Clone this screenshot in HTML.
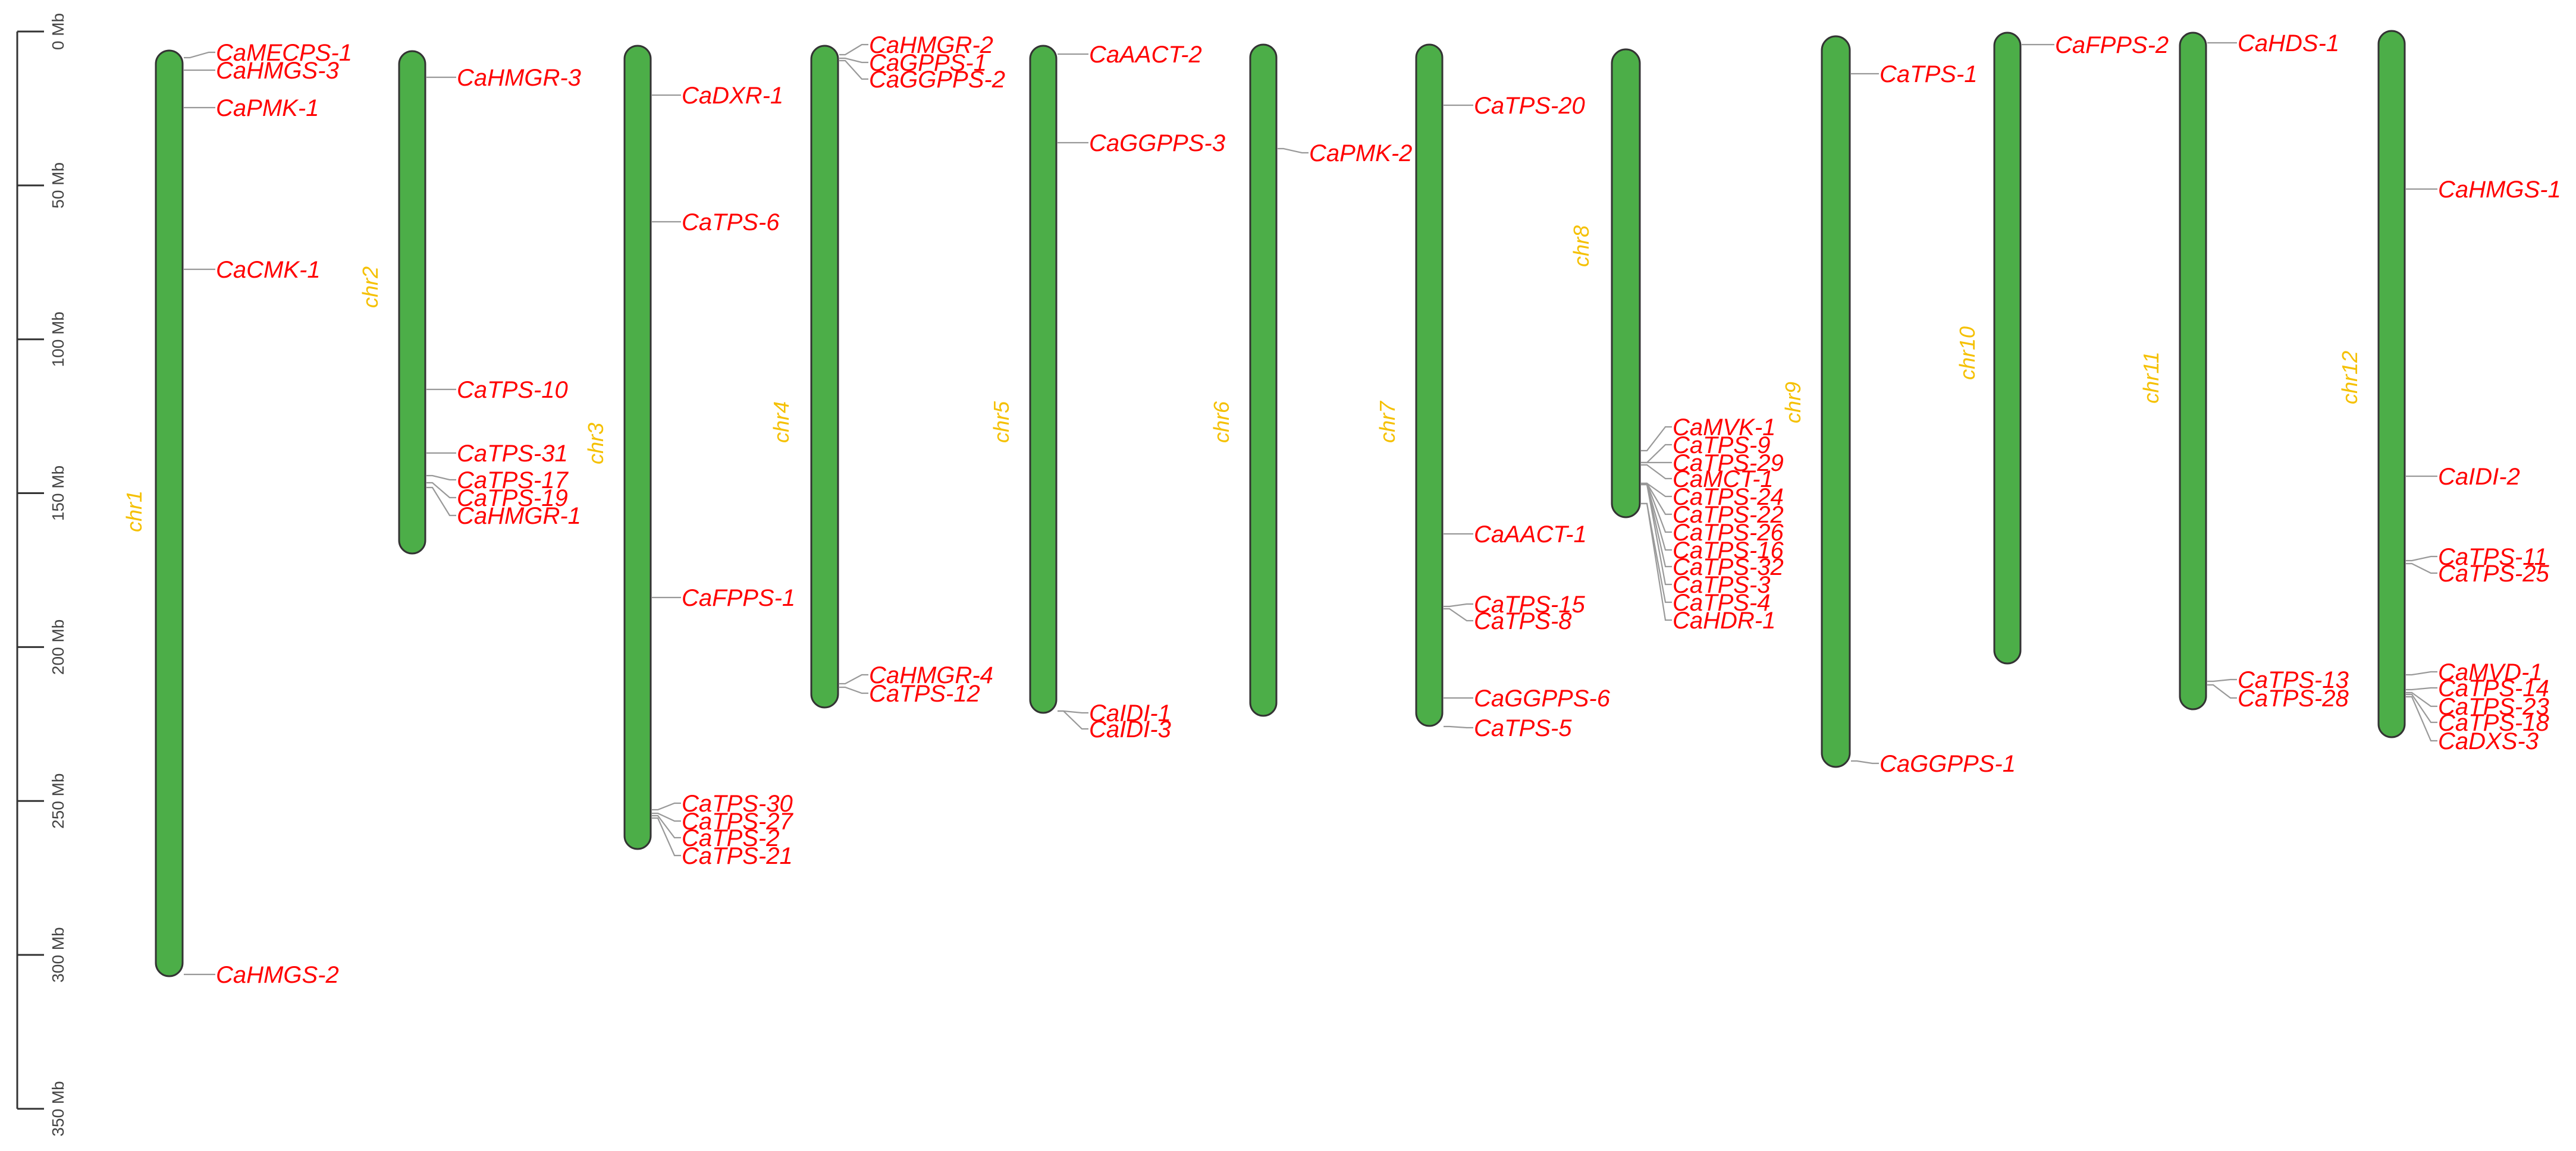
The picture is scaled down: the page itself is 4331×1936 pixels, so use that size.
<!DOCTYPE html>
<html><head><meta charset="utf-8"><style>
html,body{margin:0;padding:0;background:#fff;}
svg{display:block;}
.g{font-family:"Liberation Sans",sans-serif;font-style:italic;font-size:40px;fill:#ff0000;}
.c{font-family:"Liberation Sans",sans-serif;font-style:italic;font-size:36px;fill:#f5c000;}
.a{font-family:"Liberation Sans",sans-serif;font-size:28px;fill:#444;}
.ch{fill:#4cae48;stroke:#333;stroke-width:3;}
.l{fill:none;stroke:#999;stroke-width:2.2;}
</style></head><body>
<svg id="s" width="4331" height="1936" viewBox="0 0 4331 1936" xmlns="http://www.w3.org/2000/svg">
<g stroke="#333" stroke-width="3" fill="none">
<line x1="29" y1="53" x2="29" y2="1865"/>
</g>
<g id="axis"></g>
<g id="main"></g>
</svg>
<script>
var NS="http://www.w3.org/2000/svg";
function el(t,a,p,txt){var e=document.createElementNS(NS,t);for(var k in a)e.setAttribute(k,a[k]);if(txt!==undefined)e.textContent=txt;(p||document.getElementById('main')).appendChild(e);return e;}
var ax=document.getElementById('axis');
for(var i=0;i<=7;i++){var y=53+i*50*5.177;
el('line',{x1:29,y1:y,x2:74,y2:y,stroke:'#333','stroke-width':3},ax);
el('text',{class:'a',x:0,y:0,'text-anchor':'middle',transform:'translate(107,'+y+') rotate(-90)'},ax,(i*50)+' Mb');}
var C=[
['chr1',262,307,85,1642,363,238,860,[['CaMECPS-1',88,97],['CaHMGS-3',118,118],['CaPMK-1',181,181],['CaCMK-1',453,453],['CaHMGS-2',1639,1639]]],
['chr2',671,715,86,931,768,635,483,[['CaHMGR-3',130,130],['CaTPS-10',655,655],['CaTPS-31',762,762],['CaTPS-17',807,800],['CaTPS-19',837,812],['CaHMGR-1',867,820]]],
['chr3',1050,1094,77,1428,1146,1014,746,[['CaDXR-1',160,160],['CaTPS-6',373,373],['CaFPPS-1',1005,1005],['CaTPS-30',1351,1362],['CaTPS-27',1381,1368],['CaTPS-2',1409,1372],['CaTPS-21',1439,1376]]],
['chr4',1364,1409,77,1190,1461,1326,710,[['CaHMGR-2',75,92],['CaGPPS-1',105,98],['CaGGPPS-2',133,102],['CaHMGR-4',1135,1150],['CaTPS-12',1166,1156]]],
['chr5',1732,1776,77,1199,1831,1696,710,[['CaAACT-2',91,91],['CaGGPPS-3',240,240],['CaIDI-1',1199,1196],['CaIDI-3',1226,1196]]],
['chr6',2102,2146,75,1204,2201,2066,710,[['CaPMK-2',257,250]]],
['chr7',2381,2425,75,1221,2478,2345,710,[['CaTPS-20',177,177],['CaAACT-1',898,898],['CaTPS-15',1016,1020],['CaTPS-8',1044,1024],['CaGGPPS-6',1174,1174],['CaTPS-5',1224,1222]]],
['chr8',2710,2757,83,870,2812,2671,414,[['CaMVK-1',718,758],['CaTPS-9',748,778],['CaTPS-29',778,778],['CaMCT-1',805,782],['CaTPS-24',835,813],['CaTPS-22',865,813],['CaTPS-26',895,813],['CaTPS-16',925,815],['CaTPS-32',953,815],['CaTPS-3',983,815],['CaTPS-4',1013,847],['CaHDR-1',1043,847]]],
['chr9',3063,3110,61,1290,3160,3027,677,[['CaTPS-1',124,124],['CaGGPPS-1',1284,1280]]],
['chr10',3353,3397,55,1116,3455,3320,594,[['CaFPPS-2',75,75]]],
['chr11',3665,3709,55,1193,3762,3629,635,[['CaHDS-1',72,72],['CaTPS-13',1143,1146],['CaTPS-28',1174,1152]]],
['chr12',3999,4043,52,1240,4099,3963,635,[['CaHMGS-1',318,318],['CaIDI-2',801,801],['CaTPS-11',936,943],['CaTPS-25',964,948],['CaMVD-1',1130,1135],['CaTPS-14',1157,1160],['CaTPS-23',1188,1165],['CaTPS-18',1215,1168],['CaDXS-3',1246,1172]]]
];
C.forEach(function(c){
 var w=c[2]-c[1];
 c[8].forEach(function(L){
  var lx=c[5];
  el('path',{class:'l',d:'M'+(c[2]+2)+','+L[2]+' L'+(c[2]+12)+','+L[2]+' L'+(lx-12)+','+L[1]+' L'+(lx-1)+','+L[1]});
  el('text',{class:'g',x:lx,y:L[1]+14},null,L[0]);
 });
 el('rect',{class:'ch',x:c[1],y:c[3],width:w,height:c[4]-c[3],rx:w/2,ry:w/2});
 el('text',{class:'c',x:0,y:0,'text-anchor':'middle',transform:'translate('+c[6]+','+c[7]+') rotate(-90)'},null,c[0]);
});
</script>
</body></html>
